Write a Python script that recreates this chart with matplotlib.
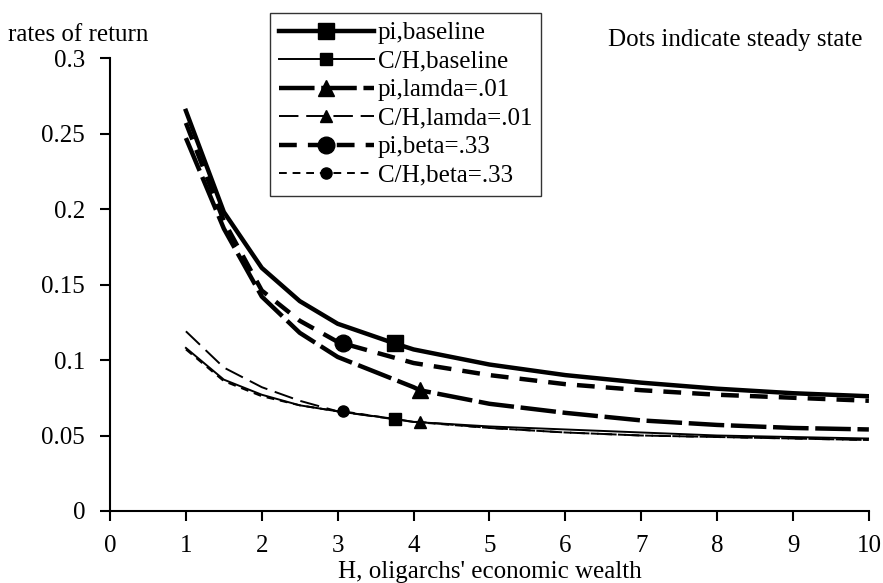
import matplotlib.pyplot as plt

plt.rcParams['font.family'] = ['Liberation Serif', 'DejaVu Serif']

# data (steady-state point included in each series)
h_pi_base = [1, 1.5, 2, 2.5, 3, 3.75, 4, 5, 6, 7, 8, 9, 10]
pi_base = [0.265, 0.198, 0.161, 0.139, 0.124, 0.111, 0.107, 0.097, 0.090, 0.085, 0.081, 0.078, 0.076]
h_ch_base = [1, 1.5, 2, 2.5, 3, 3.75, 4, 5, 6, 7, 8, 9, 10]
ch_base = [0.108, 0.087, 0.077, 0.070, 0.066, 0.061, 0.059, 0.056, 0.054, 0.052, 0.050, 0.049, 0.048]

h_pi_lam = [1, 1.5, 2, 2.5, 3, 4, 4.08, 5, 6, 7, 8, 9, 10]
pi_lam = [0.247, 0.187, 0.142, 0.118, 0.102, 0.082, 0.080, 0.071, 0.065, 0.060, 0.057, 0.055, 0.054]
h_ch_lam = [1, 1.5, 2, 2.5, 3, 4, 4.08, 5, 6, 7, 8, 9, 10]
ch_lam = [0.119, 0.095, 0.082, 0.073, 0.066, 0.059, 0.059, 0.055, 0.052, 0.050, 0.049, 0.048, 0.047]

h_pi_beta = [1, 1.5, 2, 2.5, 3, 3.07, 4, 5, 6, 7, 8, 9, 10]
pi_beta = [0.257, 0.192, 0.146, 0.126, 0.112, 0.111, 0.098, 0.090, 0.084, 0.080, 0.077, 0.075, 0.073]
h_ch_beta = [1, 1.5, 2, 2.5, 3, 3.07, 4, 5, 6, 7, 8, 9, 10]
ch_beta = [0.107, 0.086, 0.076, 0.070, 0.066, 0.066, 0.059, 0.055, 0.052, 0.050, 0.049, 0.048, 0.047]

fig = plt.figure(figsize=(8.83, 5.83), dpi=100)
ax = fig.add_axes([0.1246, 0.1235, 0.8594, 0.777])

ax.plot(h_pi_base, pi_base, color='black', lw=3.2, ls='-', marker='s', ms=12,
        markevery=[5], label='pi,baseline')
ax.plot(h_ch_base, ch_base, color='black', lw=1.4, ls='-', marker='s', ms=8,
        markevery=[5], label='C/H,baseline')
ax.plot(h_pi_lam, pi_lam, color='black', lw=3.2, ls=(0, (8, 1.5)), marker='^', ms=12,
        markevery=[6], label='pi,lamda=.01')
ax.plot(h_ch_lam, ch_lam, color='black', lw=1.4, ls=(0, (10, 4)), marker='^', ms=9,
        markevery=[6], label='C/H,lamda=.01')
ax.plot(h_pi_beta, pi_beta, color='black', lw=3.2, ls=(0, (4, 2.5)), marker='o', ms=12,
        markevery=[5], label='pi,beta=.33')
ax.plot(h_ch_beta, ch_beta, color='black', lw=1.4, ls=(0, (4, 3)), marker='o', ms=8,
        markevery=[5], label='C/H,beta=.33')

ax.set_xlim(0, 10)
ax.set_ylim(0, 0.3)
ax.set_xticks(range(0, 11))
ax.set_yticks([0, 0.05, 0.1, 0.15, 0.2, 0.25, 0.3])
ax.set_yticklabels(['0', '0.05', '0.1', '0.15', '0.2', '0.25', '0.3'])
ax.spines['top'].set_visible(False)
ax.spines['right'].set_visible(False)
ax.spines['left'].set_linewidth(1.5)
ax.spines['bottom'].set_linewidth(1.5)
ax.tick_params(axis='both', direction='out', length=7, width=1.5, labelsize=18)
ax.tick_params(axis='x', pad=10)
ax.tick_params(axis='y', pad=11)
ax.set_xlabel("H, oligarchs' economic wealth", fontsize=18, labelpad=3)

fig.text(0.009, 0.94, 'rates of return', fontsize=18, ha='left', va='center')
fig.text(0.977, 0.931, 'Dots indicate steady state', fontsize=18, ha='right', va='center')

leg = ax.legend(loc='upper left', bbox_to_anchor=(0.211, 1.099), fontsize=18, numpoints=1,
                handlelength=3.8, frameon=True, fancybox=False, edgecolor='black',
                borderpad=0.35, labelspacing=0.24, handletextpad=0.15, borderaxespad=0)
leg.get_frame().set_linewidth(1.0)

fig.savefig('out.png', dpi=100)
